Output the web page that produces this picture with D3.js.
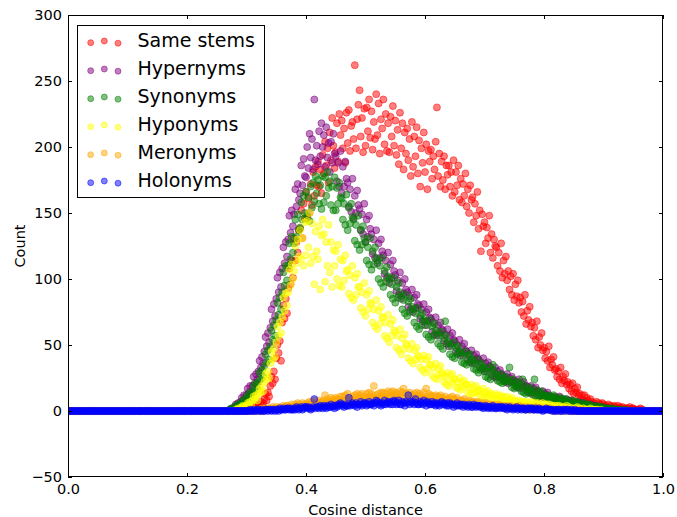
<!DOCTYPE html>
<html><head><meta charset="utf-8">
<script src="https://cdn.jsdelivr.net/npm/d3@7/dist/d3.min.js"></script>
<style>body{margin:0;background:#fff}svg text{font-family:"DejaVu Sans",sans-serif}</style>
</head><body>
<svg id="chart" width="677" height="517"></svg>
<script>
// x bins: histogram bins of width 0.002 from 0.0 to 1.0 (501 bins)
const binStep = 0.002;
const binCount = 501;
const seriesNames = ["Same stems","Hypernyms","Synonyms","Hyponyms","Meronyms","Holonyms"];
const seriesColors = ["#ff0000","#800080","#008000","#ffff00","#ffa500","#0000ff"];
const xTicks = [0,0.2,0.4,0.6,0.8,1.0];
const xTickLabels = ["0.0","0.2","0.4","0.6","0.8","1.0"];
const yTicks = [-50,0,50,100,150,200,250,300];
const yTickLabels = ["\u221250","0","50","100","150","200","250","300"];

// each row = 0.05 of cosine distance (25 bins)
const sameStems = [
0,0,0,0,0,0,0,0,0,0,0,0,0,0,0,0,0,0,0,0,0,0,0,0,0,
0,0,0,0,0,0,0,0,0,0,0,0,0,0,0,0,0,0,0,0,0,0,0,0,0,
0,0,0,0,0,0,0,0,0,0,0,0,0,0,0,0,0,0,0,0,0,0,0,0,0,
0,0,0,0,0,0,0,0,0,0,0,0,0,0,0,0,0,0,0,0,0,0,0,0,0,
0,0,0,0,0,0,0,0,0,0,0,0,0,0,0,0,0,0,0,0,0,0,0,0,0,
0,0,0,0,0, 0,0,0,0,0, 0,0,0,0,0, 0,0,0,0,0, 0,0,0,1,0,
1,0,2,1,1, 2,3,1,4,2, 5,3,7,4,6, 9,13,8,14,11, 19,26,21,30,24,
40,50,44,53,38, 67,80,70,85,74, 93,108,96,114,101, 131,114,128,120,137, 138,152,131,157,146,
166,146,161,150,172, 156,181,163,185,171, 189,170,183,165,194, 180,204,186,199,173, 211,190,222,201,184,
196,218,189,225,209, 220,199,214,188,226, 203,228,197,216,219, 206,262,199,221,232, 243,208,222,196,229,
201,230,212,236,207, 227,198,219,206,240, 209,233,195,221,214, 236,202,225,197,218, 196,223,208,231,201,
220,194,213,187,226, 199,218,183,211,195, 214,190,206,178,219, 185,208,193,215,180, 205,170,199,188,211,
181,202,168,197,189, 198,176,193,183,204, 230,178,195,170,189, 175,193,168,186,179, 186,170,181,163,190,
166,181,171,186,160, 176,158,172,163,180, 155,168,150,171,160, 162,143,157,148,166, 138,152,121,149,140,
143,127,139,131,148, 120,134,116,130,125, 124,110,120,106,127, 101,114,104,117,99, 106,92,102,88,104,
84,96,87,99,82, 86,75,83,72,88, 66,76,69,79,64, 67,57,63,54,68, 48,56,50,59,46,
48,40,45,38,49, 33,39,35,41,31, 32,26,30,24,33, 21,26,23,28,20, 22,17,20,15,21,
13,17,14,18,12, 13,9,12,8,12, 7,10,8,6,9, 7,5,6,4,7, 4,6,5,3,6,
5,3,4,3,5, 2,4,3,2,4, 3,2,4,2,3, 2,3,1,2,2, 1,2,3,1,2,
2,1,1,0,1, 1,2,0,1,0, 0,0,0,0,0, 0,0,0,0,0, 0,0,0,0,0,
0];

const hypernyms = [
0,0,0,0,0,0,0,0,0,0,0,0,0,0,0,0,0,0,0,0,0,0,0,0,0,
0,0,0,0,0,0,0,0,0,0,0,0,0,0,0,0,0,0,0,0,0,0,0,0,0,
0,0,0,0,0,0,0,0,0,0,0,0,0,0,0,0,0,0,0,0,0,0,0,0,0,
0,0,0,0,0,0,0,0,0,0,0,0,0,0,0,0,0,0,0,0,0,0,0,0,0,
0,0,0,0,0,0,0,0,0,0,0,0,0,0,0,0,0,0,0,0,0,0,0,0,0,
0,0,0,0,0, 0,0,0,0,0, 0,1,1,2,1, 3,5,4,6,4, 7,10,8,12,9,
12,17,14,19,13, 19,26,21,28,24, 30,38,33,41,36, 45,56,49,59,52, 63,77,68,81,72,
85,101,90,105,94, 108,124,112,128,117, 130,148,135,152,140, 149,168,155,172,160, 165,186,171,191,178,
177,200,184,210,192, 206,183,236,190,201, 187,212,193,218,200, 209,185,215,192,203, 181,204,188,210,195,
193,174,188,170,197, 165,185,170,189,176, 173,155,168,151,176, 146,163,150,167,156, 153,137,149,134,157,
128,145,132,148,138, 134,119,130,116,137, 112,127,116,130,121, 118,104,114,101,120, 97,111,101,114,106,
103,91,99,88,105, 85,97,89,100,92, 90,79,87,77,92, 75,86,78,88,81, 80,70,77,68,81,
65,75,68,77,71, 70,60,67,58,71, 57,65,59,67,62, 61,53,58,51,62, 49,57,51,59,54,
53,45,50,44,54, 42,49,44,51,46, 45,39,43,37,46, 36,42,38,43,40, 39,33,37,32,40,
30,36,32,37,34, 33,27,31,26,33, 25,30,26,31,28, 27,23,26,22,28, 21,25,22,26,23,
23,19,22,18,24, 17,21,18,22,19, 19,15,18,14,19, 13,17,14,18,15, 15,11,14,10,15,
11,13,12,14,11, 11,9,10,8,11, 8,10,9,11,8, 9,7,8,6,9, 6,8,7,8,6,
7,5,6,5,7, 4,6,5,6,4, 5,3,4,3,5, 2,4,3,4,2, 3,2,2,1,3,
1,2,2,1,2, 1,0,1,1,1, 0,1,0,1,0, 0,0,0,0,0, 0,0,0,0,0,
0,0,0,0,0,0,0,0,0,0,0,0,0,0,0,0,0,0,0,0,0,0,0,0,0,
0];

const synonyms = [
0,0,0,0,0,0,0,0,0,0,0,0,0,0,0,0,0,0,0,0,0,0,0,0,0,
0,0,0,0,0,0,0,0,0,0,0,0,0,0,0,0,0,0,0,0,0,0,0,0,0,
0,0,0,0,0,0,0,0,0,0,0,0,0,0,0,0,0,0,0,0,0,0,0,0,0,
0,0,0,0,0,0,0,0,0,0,0,0,0,0,0,0,0,0,0,0,0,0,0,0,0,
0,0,0,0,0,0,0,0,0,0,0,0,0,0,0,0,0,0,0,0,0,0,0,0,0,
0,0,0,0,0, 0,0,0,0,0, 0,1,2,1,0, 2,4,3,5,3, 5,7,6,9,5,
9,12,10,14,8, 14,19,15,21,17, 22,29,24,31,26, 34,43,37,46,39, 49,61,54,65,57,
69,82,73,86,77, 90,105,95,110,99, 110,127,115,132,120, 127,145,132,149,137, 139,158,145,163,150,
166,148,162,144,170, 154,173,159,178,165, 175,157,171,153,178, 158,177,163,181,169, 174,156,170,152,177,
152,169,157,173,162, 161,145,157,141,164, 137,154,142,157,147, 145,129,141,126,148, 122,137,126,140,131,
128,114,124,111,131, 107,121,111,124,116, 114,100,110,97,116, 94,106,98,109,102, 100,88,96,85,101,
82,94,86,97,90, 87,77,84,74,88, 72,83,75,85,79, 77,67,74,64,78, 62,72,65,74,69,
68,58,65,56,69, 54,64,57,66,61, 59,51,57,49,60, 47,55,68,57,52, 51,43,49,41,52,
40,48,43,49,45, 44,37,42,36,45, 35,42,37,43,39, 38,32,36,31,39, 29,35,31,36,33,
32,26,30,25,33, 24,30,35,31,28, 27,23,26,22,28, 21,25,22,26,23, 23,33,22,18,24,
17,21,18,22,19, 19,15,24,14,19, 13,17,14,18,15, 15,12,24,11,16, 10,14,11,15,12,
12,10,11,9,12, 9,11,10,12,9, 10,8,9,7,10, 7,9,8,9,7, 8,6,7,5,8,
5,7,6,7,5, 6,4,5,4,6, 3,5,4,5,3, 4,2,3,2,4, 2,3,3,2,3,
2,1,2,2,1, 1,2,1,2,1, 1,1,0,1,1, 0,1,0,0,1, 0,0,0,0,0,
0,0,0,0,0,0,0,0,0,0,0,0,0,0,0,0,0,0,0,0,0,0,0,0,0,
0];

const hyponyms = [
0,0,0,0,0,0,0,0,0,0,0,0,0,0,0,0,0,0,0,0,0,0,0,0,0,
0,0,0,0,0,0,0,0,0,0,0,0,0,0,0,0,0,0,0,0,0,0,0,0,0,
0,0,0,0,0,0,0,0,0,0,0,0,0,0,0,0,0,0,0,0,0,0,0,0,0,
0,0,0,0,0,0,0,0,0,0,0,0,0,0,0,0,0,0,0,0,0,0,0,0,0,
0,0,0,0,0,0,0,0,0,0,0,0,0,0,0,0,0,0,0,0,0,0,0,0,0,
0,0,0,0,0, 0,0,0,0,0, 0,0,0,0,0, 0,1,1,2,1, 2,3,4,3,2,
4,6,5,7,4, 8,11,9,12,8, 13,17,14,19,15, 22,28,24,30,25, 36,45,39,47,41,
52,64,57,67,59, 71,86,76,89,80, 90,107,95,111,100, 106,125,112,130,117, 137,115,131,110,143,
118,144,124,150,112, 142,117,96,136,121, 115,140,92,133,145, 134,98,128,110,141, 105,128,94,122,110,
121,100,126,95,115, 94,114,99,118,106, 107,89,103,86,110, 84,101,88,104,94, 94,78,90,75,97,
72,88,77,91,82, 81,67,77,64,84, 62,76,66,79,71, 71,57,67,55,73, 52,66,57,69,61,
60,48,57,46,62, 43,55,47,58,51, 50,40,47,38,51, 36,46,39,48,42, 41,33,39,31,42,
29,39,32,41,35, 35,27,33,25,36, 24,32,27,34,29, 28,22,26,20,29, 19,27,22,28,24,
24,18,22,17,25, 16,22,18,23,20, 20,14,18,13,20, 13,18,14,19,15, 16,12,15,11,17,
10,14,11,15,12, 13,9,12,8,13, 8,12,9,12,10, 11,7,10,7,11, 7,9,8,10,7,
8,6,7,5,8, 5,7,6,7,5, 7,5,6,4,7, 4,6,5,6,4, 6,4,5,3,6,
3,5,4,5,3, 5,3,4,3,4, 2,4,3,4,2, 3,2,3,2,4, 2,3,1,2,2,
1,2,2,3,1, 2,1,1,2,1, 1,1,0,1,2, 0,1,1,0,1, 1,0,0,1,0,
0,0,0,0,0,0,0,0,0,0,0,0,0,0,0,0,0,0,0,0,0,0,0,0,0,
0,0,0,0,0,0,0,0,0,0,0,0,0,0,0,0,0,0,0,0,0,0,0,0,0,
0];

const meronyms = [
0,0,0,0,0,0,0,0,0,0,0,0,0,0,0,0,0,0,0,0,0,0,0,0,0,
0,0,0,0,0,0,0,0,0,0,0,0,0,0,0,0,0,0,0,0,0,0,0,0,0,
0,0,0,0,0,0,0,0,0,0,0,0,0,0,0,0,0,0,0,0,0,0,0,0,0,
0,0,0,0,0,0,0,0,0,0,0,0,0,0,0,0,0,0,0,0,0,0,0,0,0,
0,0,0,0,0,0,0,0,0,0,0,0,0,0,0,0,0,0,0,0,0,0,0,0,0,
0,0,0,0,0,0,0,0,0,0,0,0,0,0,0,0,0,0,0,0,0,0,0,0,0,
0,0,1,0,0, 1,0,0,1,0, 1,0,1,2,1, 0,2,1,1,2, 2,1,3,1,2,
3,1,2,3,2, 2,4,3,2,4, 4,2,3,5,3, 3,5,4,6,3, 5,3,6,4,5,
4,6,5,7,4, 7,5,8,4,6, 5,8,6,7,5, 8,12,6,9,7, 7,10,6,9,8,
10,7,9,6,11, 8,11,7,12,9, 13,8,10,7,11, 9,12,8,13,10, 12,9,13,8,11,
9,13,10,14,11, 13,10,19,9,12, 10,13,9,14,11, 14,10,13,9,15, 10,14,11,15,12,
14,10,13,9,15, 11,14,17,10,13, 13,10,14,11,12, 10,13,9,14,11, 13,9,12,10,14,
9,17,10,13,11, 12,9,11,8,12, 8,11,9,12,10, 10,8,11,7,9, 8,10,7,11,9,
9,7,10,6,8, 6,8,7,9,6, 7,5,8,6,7, 5,7,6,4,7, 6,4,5,6,4,
4,6,5,3,5, 5,3,4,5,3, 3,4,5,3,4, 4,3,2,4,3, 2,3,4,3,2,
3,2,3,2,4, 3,2,2,3,1, 2,3,1,2,2, 1,2,2,3,2, 2,1,2,1,2,
1,2,1,2,1, 2,1,1,1,0, 1,1,0,1,1, 0,1,1,0,1, 1,0,1,1,0,
0,1,0,0,1, 0,0,1,0,0, 0,0,0,0,0, 0,0,0,0,0, 0,0,0,0,0,
0,0,0,0,0,0,0,0,0,0,0,0,0,0,0,0,0,0,0,0,0,0,0,0,0,
0,0,0,0,0,0,0,0,0,0,0,0,0,0,0,0,0,0,0,0,0,0,0,0,0,
0];

const holonyms = [
0,0,0,0,0,0,0,0,0,0,0,0,0,0,0,0,0,0,0,0,0,0,0,0,0,
0,0,0,0,0,0,0,0,0,0,0,0,0,0,0,0,0,0,0,0,0,0,0,0,0,
0,0,0,0,0,0,0,0,0,0,0,0,0,0,0,0,0,0,0,0,0,0,0,0,0,
0,0,0,0,0,0,0,0,0,0,0,0,0,0,0,0,0,0,0,0,0,0,0,0,0,
0,0,0,0,0,0,0,0,0,0,0,0,0,0,0,0,0,0,0,0,0,0,0,0,0,
0,0,0,0,0,0,0,0,0,0,0,0,0,0,0,0,0,0,0,0,0,0,0,0,0,
0,0,0,1,0, 0,1,0,0,1, 1,0,0,1,0, 0,1,1,0,1, 1,0,1,1,0,
1,1,0,2,1, 1,2,1,1,2, 2,1,2,1,1, 2,1,3,2,1, 2,3,1,2,3,
3,2,3,2,1, 2,3,9,2,3, 3,2,4,3,2, 4,3,2,4,3, 3,5,3,4,2,
4,3,5,4,6, 5,4,3,5,4, 4,10,4,5,6, 5,4,6,3,5, 5,7,4,5,6,
6,4,5,7,5, 5,6,4,6,8, 7,5,6,4,6, 5,8,5,6,7, 6,5,7,5,8,
7,5,6,8,5, 5,7,6,4,7, 6,12,5,7,6, 7,5,9,6,5, 5,7,6,5,8,
6,4,7,6,5, 5,7,5,6,4, 6,5,4,6,7, 5,6,5,4,6, 4,6,5,5,3,
5,4,6,4,5, 4,5,3,5,4, 4,3,5,4,3, 3,5,4,3,4, 4,3,4,3,2,
3,4,3,2,3, 3,2,4,3,2, 2,3,3,2,3, 3,2,2,3,1, 2,3,2,2,1,
2,2,3,1,2, 2,1,2,2,1, 1,2,2,1,2, 2,1,1,2,1, 1,2,1,1,0,
1,1,2,1,1, 1,1,0,1,0, 1,0,1,1,0, 0,1,1,0,1, 1,0,0,1,0,
0,1,0,0,0, 0,0,0,0,0, 0,0,0,0,0, 0,0,0,0,0, 0,0,0,0,0,
0,0,0,0,0,0,0,0,0,0,0,0,0,0,0,0,0,0,0,0,0,0,0,0,0,
0,0,0,0,0,0,0,0,0,0,0,0,0,0,0,0,0,0,0,0,0,0,0,0,0,
0];

const seriesValues = [sameStems, hypernyms, synonyms, hyponyms, meronyms, holonyms];
seriesValues.forEach((a,i)=>{ if(a.length!==binCount) console.error(seriesNames[i]+" length "+a.length); });

const W = 677, H = 517;
const plot = {left: 68, right: 663, top: 15, bottom: 477};
const x = d3.scaleLinear().domain([0,1]).range([plot.left, plot.right]);
const y = d3.scaleLinear().domain([-50,300]).range([plot.bottom, plot.top]);
const svg = d3.select("#chart");
svg.append("rect").attr("width",W).attr("height",H).attr("fill","#fff");

svg.append("defs").append("clipPath").attr("id","clip")
  .append("rect").attr("x",plot.left).attr("y",plot.top)
  .attr("width",plot.right-plot.left).attr("height",plot.bottom-plot.top);

const R = 3.5, OP = 0.5;
function styleDot(sel, color){
  sel.attr("fill",color).attr("fill-opacity",OP)
     .attr("stroke",color).attr("stroke-opacity",OP).attr("stroke-width",1);
}
const g = svg.append("g").attr("clip-path","url(#clip)");
seriesValues.forEach((vals, si) => {
  g.append("g").selectAll("circle").data(vals).join("circle")
    .attr("cx",(d,i)=>x(i*binStep))
    .attr("cy",d=>y(d))
    .attr("r",R)
    .call(styleDot, seriesColors[si]);
});

// frame
svg.append("rect").attr("x",plot.left+0.5).attr("y",plot.top+0.5)
  .attr("width",plot.right-plot.left-1).attr("height",plot.bottom-plot.top-1)
  .attr("fill","none").attr("stroke","#000").attr("stroke-width",1);

const fs = "14.5px";
const axB = svg.append("g").attr("transform",`translate(0,${plot.bottom})`)
  .call(d3.axisBottom(x).tickValues(xTicks).tickFormat((d,i)=>xTickLabels[i]).tickSizeInner(-4).tickSizeOuter(0).tickPadding(7));
const axT = svg.append("g").attr("transform",`translate(0,${plot.top})`)
  .call(d3.axisTop(x).tickValues(xTicks).tickFormat("").tickSizeInner(-4).tickSizeOuter(0));
const axL = svg.append("g").attr("transform",`translate(${plot.left},0)`)
  .call(d3.axisLeft(y).tickValues(yTicks).tickFormat((d,i)=>yTickLabels[i]).tickSizeInner(-4).tickSizeOuter(0).tickPadding(6));
const axR = svg.append("g").attr("transform",`translate(${plot.right},0)`)
  .call(d3.axisRight(y).tickValues(yTicks).tickFormat("").tickSizeInner(-4).tickSizeOuter(0));
[axB,axT,axL,axR].forEach(a=>{
  a.select(".domain").remove();
  a.selectAll("line").attr("stroke","#000");
  a.selectAll("text").attr("fill","#000").style("font-size",fs).style("font-family","DejaVu Sans");
});

svg.append("text").attr("x",(plot.left+plot.right)/2).attr("y",515)
  .attr("text-anchor","middle").style("font-size",fs).text("Cosine distance");
svg.append("text").attr("transform",`translate(25,${(plot.top+plot.bottom)/2}) rotate(-90)`)
  .attr("text-anchor","middle").style("font-size",fs).text("Count");

// legend
const lg = svg.append("g");
lg.append("rect").attr("x",77.5).attr("y",25.5).attr("width",187).attr("height",172)
  .attr("fill","#fff").attr("stroke","#000").attr("stroke-width",1);
const dotDx = [90.7,104.3,118];
const dotDy = [1.0,-0.7,1.5];
seriesNames.forEach((name, i) => {
  const ry = 41.7 + i*28;
  dotDx.forEach((dx,k)=>{
    lg.append("circle").attr("cx",dx).attr("cy",ry+dotDy[k]).attr("r",3.0)
      .call(styleDot, seriesColors[i]);
  });
  lg.append("text").attr("x",137.5).attr("y",ry+4.8).style("font-size","19px").text(name);
});
</script>
</body></html>
